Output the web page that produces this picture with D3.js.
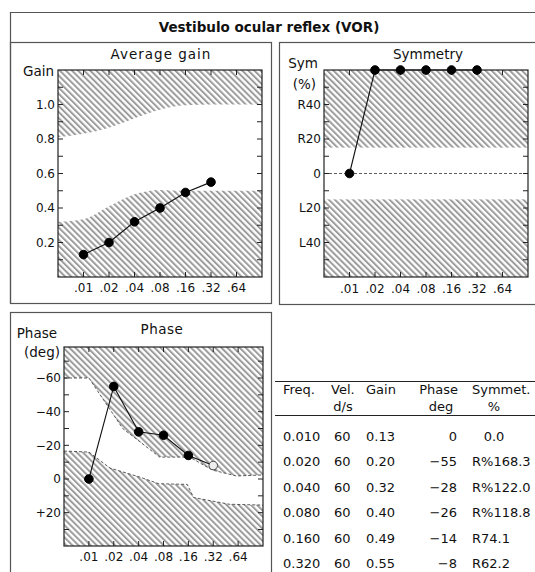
<!DOCTYPE html>
<html><head><meta charset="utf-8">
<script src="https://cdn.jsdelivr.net/npm/d3@7"></script>
<style>
body{margin:0;background:#fff;}
svg text{font-family:"DejaVu Sans",sans-serif;fill:#111;}
</style></head>
<body><svg id="c" width="535" height="572"></svg>
<script>
// ---------- data ----------
const freqs = [0.01, 0.02, 0.04, 0.08, 0.16, 0.32];
const freqTickValues = [0.01, 0.02, 0.04, 0.08, 0.16, 0.32, 0.64];
const freqTickLabels = [".01", ".02", ".04", ".08", ".16", ".32", ".64"];
const velocity = [60, 60, 60, 60, 60, 60];
const gain = [0.13, 0.20, 0.32, 0.40, 0.49, 0.55];
const phase = [0, -55, -28, -26, -14, -8];
const symmetry = [0, 168.3, 122.0, 118.8, 74.1, 62.2];
const symmetryText = ["0.0", "R%168.3", "R%122.0", "R%118.8", "R74.1", "R62.2"];
const freqText = ["0.010", "0.020", "0.040", "0.080", "0.160", "0.320"];
const phaseOpen = [false, false, false, false, false, true];

// normal ranges
const gainBandFreq  = [0.005, 0.01, 0.02, 0.04, 0.08, 0.16, 0.32, 1.28];
const gainBandLower = [0.32, 0.335, 0.41, 0.48, 0.505, 0.50, 0.50, 0.50];
const gainBandUpper = [0.81, 0.83, 0.865, 0.92, 0.97, 0.995, 1.0, 1.0];
const symLimit = 15;
const phaseUpperFreq = [0.005, 0.01, 0.0257, 0.072, 0.166, 0.313, 0.61, 1.28];
const phaseUpperVal  = [-60, -60, -30, -13, -13, -5.3, -1.8, -2.4];
const phaseLowerFreq = [0.005, 0.01, 0.018, 0.041, 0.07, 0.155, 0.185, 0.5, 1.28];
const phaseLowerVal  = [-16.6, -16, -6.5, -1.2, 2.8, 3.2, 11, 15, 15.5];

const gainTicks = [0.2, 0.4, 0.6, 0.8, 1.0];
const gainMinor = [0.1,0.2,0.3,0.4,0.5,0.6,0.7,0.8,0.9,1.0,1.1];
const symTicks = [40, 20, 0, -20, -40];
const symTickLabels = ["R40", "R20", "0", "L20", "L40"];
const symMinor = [50,40,30,20,10,0,-10,-20,-30,-40,-50];
const phaseTicks = [-60, -40, -20, 0, 20];
const phaseTickLabels = ["\u221260", "\u221240", "\u221220", "0", "+20"];
const phaseMinor = [-70,-60,-50,-40,-30,-20,-10,0,10,20,30];

const tHead1 = ["Freq.", "Vel.", "Gain", "Phase", "Symmet."];
const tHead2 = ["", "d/s", "", "deg", "%"];

// ---------- drawing ----------
const svg = d3.select("#c");
const defs = svg.append("defs");
const pat = defs.append("pattern").attr("id","hatch").attr("patternUnits","userSpaceOnUse")
  .attr("width",4.3).attr("height",4.3).attr("patternTransform","rotate(-45)");
pat.append("rect").attr("width",4.3).attr("height",4.3).attr("fill","#fff");
pat.append("line").attr("x1",1).attr("x2",1).attr("y1",0).attr("y2",4.3)
  .attr("stroke","#9c9c9c").attr("stroke-width",2);

const frame = "#555";
svg.append("path").attr("d","M10.5,303 V12.5 H535").attr("fill","none").attr("stroke",frame).attr("stroke-width",1.2);
svg.append("rect").attr("x",10.5).attr("y",42.5).attr("width",261).attr("height",261).attr("fill","none").attr("stroke",frame).attr("stroke-width",1.2);
svg.append("rect").attr("x",279.5).attr("y",42.5).attr("width",270).attr("height",262).attr("fill","none").attr("stroke",frame).attr("stroke-width",1.2);
svg.append("rect").attr("x",10.5).attr("y",312.5).attr("width",261).attr("height",280).attr("fill","none").attr("stroke",frame).attr("stroke-width",1.2);

svg.append("text").attr("x",269).attr("y",32).attr("text-anchor","middle")
  .attr("font-size",13.5).attr("font-weight","bold").text("Vestibulo ocular reflex (VOR)");

function panel(opt){
  const g = svg.append("g");
  const x = d3.scaleLog().domain([0.005,1.28]).range(opt.xr);
  const y = opt.y;
  const [x0,x1] = opt.xr;
  const top = Math.min(y.range()[0], y.range()[1]), bot = Math.max(y.range()[0], y.range()[1]);
  g.append("rect").attr("x",x0).attr("y",top).attr("width",x1-x0).attr("height",bot-top).attr("fill","url(#hatch)");
  opt.band(g,x,y);
  const tl = 5;
  g.selectAll(null).data(opt.minor).join("line")
    .attr("x1",x0).attr("x2",x0+tl).attr("y1",d=>y(d)).attr("y2",d=>y(d)).attr("stroke","#222");
  g.selectAll(null).data(opt.minor).join("line")
    .attr("x1",x1).attr("x2",x1-tl).attr("y1",d=>y(d)).attr("y2",d=>y(d)).attr("stroke","#222");
  g.selectAll(null).data(freqTickValues).join("line")
    .attr("x1",d=>x(d)).attr("x2",d=>x(d)).attr("y1",top).attr("y2",top+tl).attr("stroke","#222");
  g.selectAll(null).data(freqTickValues).join("line")
    .attr("x1",d=>x(d)).attr("x2",d=>x(d)).attr("y1",bot).attr("y2",bot-tl).attr("stroke","#222");
  g.append("rect").attr("x",x0).attr("y",top).attr("width",x1-x0).attr("height",bot-top)
    .attr("fill","none").attr("stroke","#222").attr("stroke-width",1.2);
  g.selectAll(null).data(opt.ticks).join("text")
    .attr("x",x0-3).attr("y",d=>y(d)).attr("dy","0.36em").attr("text-anchor","end")
    .attr("font-size",12).text((d,i)=>opt.tickLabels[i]);
  g.selectAll(null).data(freqTickValues).join("text")
    .attr("x",d=>x(d)).attr("y",opt.xLabelY).attr("text-anchor","middle")
    .attr("font-size",12).text((d,i)=>freqTickLabels[i]);
  g.append("text").attr("x",opt.title[0]).attr("y",opt.title[1]).attr("text-anchor","middle")
    .attr("font-size",13.5).attr("letter-spacing",opt.title[3]||0).text(opt.title[2]);
  opt.yLabels.forEach(l=>{
    g.append("text").attr("x",l[0]).attr("y",l[1]).attr("text-anchor","end").attr("font-size",13.5).text(l[2]);
  });
  const vals = opt.values;
  const line = d3.line().x((d,i)=>x(freqs[i])).y(d=>y(d));
  g.append("path").datum(vals).attr("d",line).attr("fill","none").attr("stroke","#111").attr("stroke-width",1.1);
  g.selectAll(null).data(vals).join("circle")
    .attr("cx",(d,i)=>x(freqs[i])).attr("cy",d=>y(d)).attr("r",4.3)
    .attr("fill",(d,i)=>opt.open && opt.open[i] ? "#eee" : "#000")
    .attr("stroke",(d,i)=>opt.open && opt.open[i] ? "#444" : "#000").attr("stroke-width",1);
  return {x,y};
}

panel({
  xr:[58,262],
  y: d3.scaleLinear().domain([0,1.2]).range([277,70]),
  minor: gainMinor, ticks: gainTicks, tickLabels: gainTicks.map(d=>d3.format(".1f")(d)),
  xLabelY: 292, title:[161,59,"Average gain",1], yLabels:[[54,76,"Gain"]],
  values: gain,
  band:(g,x,y)=>{
    const area = d3.area().x((d,i)=>x(gainBandFreq[i])).y0((d,i)=>y(gainBandLower[i])).y1((d,i)=>y(gainBandUpper[i]))
      .curve(d3.curveMonotoneX);
    g.append("path").datum(gainBandFreq).attr("d",area).attr("fill","#fff");
  }
});

panel({
  xr:[324,528],
  y: d3.scaleLinear().domain([-60,60]).range([277,70]).clamp(true),
  minor: symMinor, ticks: symTicks, tickLabels: symTickLabels,
  xLabelY: 293, title:[428,59,"Symmetry",0], yLabels:[[318,68,"Sym"],[316,89,"(%)"]],
  values: symmetry,
  band:(g,x,y)=>{
    g.append("rect").attr("x",x.range()[0]).attr("width",x.range()[1]-x.range()[0])
      .attr("y",y(symLimit)).attr("height",y(-symLimit)-y(symLimit)).attr("fill","#fff");
    g.append("line").attr("x1",x.range()[0]).attr("x2",x.range()[1]).attr("y1",y(0)).attr("y2",y(0))
      .attr("stroke","#333").attr("stroke-width",0.8).attr("stroke-dasharray","3,2");
  }
});

const yPhase = d3.scaleLinear().domain([-60,0]).range([378,479]);
yPhase.domain([yPhase.invert(347), yPhase.invert(546)]).range([347,546]);
panel({
  xr:[64,263],
  y: yPhase,
  minor: phaseMinor, ticks: phaseTicks, tickLabels: phaseTickLabels,
  xLabelY: 561, title:[162,334,"Phase",0.5], yLabels:[[57,338,"Phase"],[60,357,"(deg)"]],
  values: phase, open: phaseOpen,
  band:(g,x,y)=>{
    const up = phaseUpperFreq.map((f,i)=>[x(f),y(phaseUpperVal[i])]);
    const lo = phaseLowerFreq.map((f,i)=>[x(f),y(phaseLowerVal[i])]);
    g.append("path").attr("d", d3.line()(up.concat(lo.slice().reverse()))+"Z").attr("fill","#fff");
    [up,lo].forEach(p=>g.append("path").attr("d",d3.line()(p)).attr("fill","none")
      .attr("stroke","#333").attr("stroke-width",0.8).attr("stroke-dasharray","3,2"));
  }
});

// ---------- table ----------
const fs = 13;
const tg = svg.append("g");
const head1X = [283, 331, 366, 458, 472];
const head1Anchor = ["start","start","start","end","start"];
const head2X = [0, 343, 0, 441, 494];
tg.append("line").attr("x1",275).attr("x2",535).attr("y1",381.5).attr("y2",381.5).attr("stroke","#222");
tg.append("line").attr("x1",275).attr("x2",535).attr("y1",415.5).attr("y2",415.5).attr("stroke","#222");
tHead1.forEach((t,i)=>tg.append("text").attr("x",head1X[i]).attr("y",394).attr("text-anchor",head1Anchor[i]).attr("font-size",fs).text(t));
tHead2.forEach((t,i)=>{ if(t) tg.append("text").attr("x",head2X[i]).attr("y",410.5).attr("text-anchor","middle").attr("font-size",fs).text(t); });
const rowY = d3.scaleLinear().domain([0,5]).range([441,568]);
freqs.forEach((f,r)=>{
  const cells = [freqText[r], String(velocity[r]), d3.format(".2f")(gain[r]),
    phase[r]<0 ? "\u2212"+Math.abs(phase[r]) : String(phase[r]), symmetryText[r]];
  const xs = [283, 334, 366, 457, 494];
  const an = ["start","start","start","end","middle"];
  cells.forEach((t,i)=>{
    let anchor = an[i], xx = xs[i];
    if(i==4 && t.startsWith("R")){anchor="start"; xx=472;}
    tg.append("text").attr("x",xx).attr("y",rowY(r)).attr("text-anchor",anchor).attr("font-size",fs).text(t);
  });
});
</script></body></html>
